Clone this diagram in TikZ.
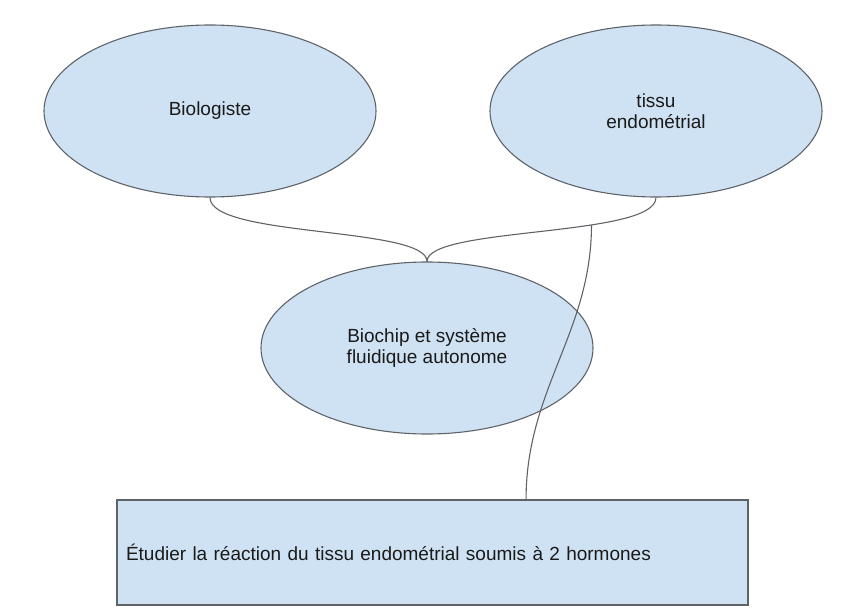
\documentclass[tikz,border=0pt]{standalone}
\usepackage{fontspec}
\setmainfont{Liberation Sans}
\usetikzlibrary{shapes.geometric, calc}
\usepackage{xcolor}
\definecolor{paleblue}{HTML}{CFE2F3}
\definecolor{edgegray}{HTML}{5F6368}
\definecolor{textgray}{HTML}{1A1A1A}

\begin{document}
\begin{tikzpicture}[x=1pt, y=-1pt,
    bubble/.style={ellipse, draw=edgegray, fill=paleblue, line width=1.1pt,
                   minimum width=332pt, minimum height=172pt, inner sep=0pt,
                   align=center, text=textgray, font=\fontsize{19}{21}\selectfont},
    taskbox/.style={rectangle, draw=edgegray, fill=paleblue, line width=1.1pt,
                    text width=613pt, minimum height=105pt, inner sep=9pt,
                    align=left, text=textgray, font=\fontsize{19}{21}\selectfont},
    link/.style={draw=edgegray, line width=1.1pt}]
  \useasboundingbox (0,0) rectangle (857,615);

  % the three ellipses
  \node[bubble] (bio) at (210,111) {Biologiste};
  \node[bubble] (tissue) at (656,111) {tissu\\endométrial};
  \node[bubble] (chip) at (427,348) {Biochip et système\\fluidique autonome};

  % goal
  \node[taskbox] (goal) at (432.5,552.5) {Étudier la réaction du tissu endométrial soumis à 2 hormones};

  % connectors
  \draw[link] (bio.south) .. controls +(0,40) and +(0,-35) .. (chip.north);
  \draw[link] (tissue.south) .. controls +(0,40) and +(0,-35) ..
    coordinate[pos=0.35] (split) (chip.north);
  \draw[link] (split) .. controls +(0,107) and +(0,-110) ..
    ($(goal.north west)!0.648!(goal.north east)$);
\end{tikzpicture}
\end{document}
